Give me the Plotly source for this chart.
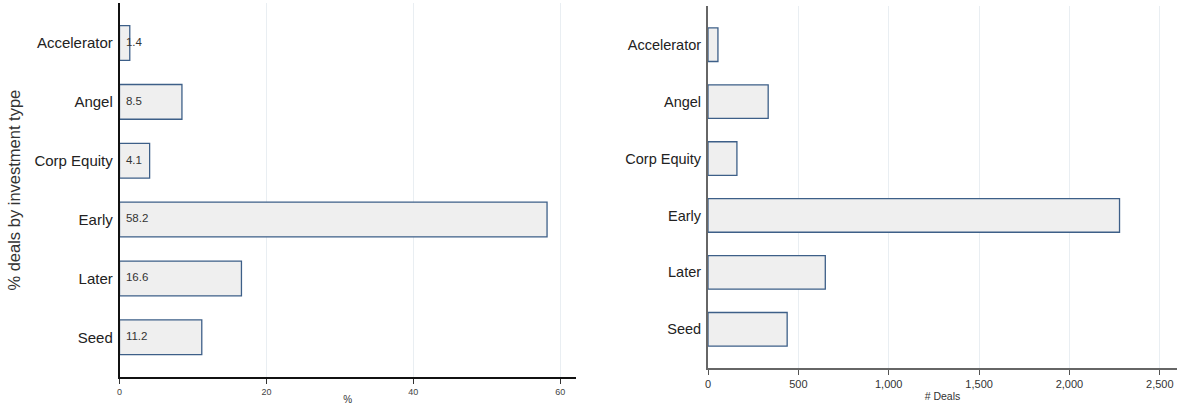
import plotly.graph_objects as go

categories = ["Accelerator", "Angel", "Corp Equity", "Early", "Later", "Seed"]
pct_values = [1.4, 8.5, 4.1, 58.2, 16.6, 11.2]
deal_counts = [55, 333, 160, 2277, 649, 438]
pct_ticks = [0, 20, 40, 60]
deal_ticks = [0, 500, 1000, 1500, 2000, 2500]
deal_tick_labels = ["0", "500", "1,000", "1,500", "2,000", "2,500"]

FILL = "#efefef"
EDGE = "#3d5f88"
FONT = "Liberation Sans, Arial, sans-serif"

fig = go.Figure()

fig.add_trace(go.Bar(
    x=pct_values, y=categories, orientation="h",
    marker=dict(color=FILL, line=dict(color=EDGE, width=1.3)),
    width=0.59, xaxis="x", yaxis="y", hoverinfo="x+y", showlegend=False,
))
fig.add_trace(go.Scatter(
    x=[0] * len(categories), y=categories, mode="text",
    text=["\u00a0\u00a0" + f"{v:.1f}" for v in pct_values], textposition="middle right",
    textfont=dict(family=FONT, size=11.5, color="#333333"),
    xaxis="x", yaxis="y", hoverinfo="skip", showlegend=False,
))
fig.add_trace(go.Bar(
    x=deal_counts, y=categories, orientation="h",
    marker=dict(color=FILL, line=dict(color=EDGE, width=1.3)),
    width=0.59, xaxis="x2", yaxis="y2", hoverinfo="x+y", showlegend=False,
))

fig.update_layout(
    width=1177, height=405,
    margin=dict(l=0, r=0, t=0, b=0),
    paper_bgcolor="white", plot_bgcolor="white",
    font=dict(family=FONT, color="#222222"),
    xaxis=dict(
        domain=[119.5 / 1177, 575.7 / 1177], anchor="y",
        range=[0, 62.1], tickvals=pct_ticks, ticktext=[str(t) for t in pct_ticks],
        showgrid=True, gridcolor="#e9eef2", gridwidth=1, zeroline=False,
        showline=True, linecolor="#111111", linewidth=1.5,
        ticks="outside", ticklen=5, tickcolor="#333333", tickwidth=1,
        tickfont=dict(size=9, color="#444444"),
        title=dict(text="%", font=dict(size=10, color="#333333"), standoff=6),
        automargin=False,
    ),
    yaxis=dict(
        domain=[(405 - 377.3) / 405, (405 - 3) / 405], anchor="x",
        type="category", categoryorder="array", categoryarray=categories,
        range=[5.68, -0.68],
        showgrid=False, zeroline=False,
        showline=True, linecolor="#111111", linewidth=1.5,
        ticks="", tickfont=dict(size=15, color="#222222"), ticklabelstandoff=2,
        title=dict(text="% deals by investment type", font=dict(size=16.5, color="#333333"), standoff=10),
        automargin=False,
    ),
    xaxis2=dict(
        domain=[708 / 1177, 1.0], anchor="y2",
        range=[0, 2595], tickvals=deal_ticks, ticktext=deal_tick_labels,
        showgrid=True, gridcolor="#e9eef2", gridwidth=1, zeroline=False,
        showline=True, linecolor="#666666", linewidth=2,
        ticks="outside", ticklen=5, tickcolor="#555555", tickwidth=1,
        tickfont=dict(size=11, color="#333333"),
        title=dict(text="# Deals", font=dict(size=10.5, color="#333333"), standoff=3),
        automargin=False,
    ),
    yaxis2=dict(
        domain=[(405 - 368) / 405, (405 - 6) / 405], anchor="x2",
        type="category", categoryorder="array", categoryarray=categories,
        range=[5.68, -0.68],
        showgrid=False, zeroline=False,
        showline=True, linecolor="#666666", linewidth=2,
        ticks="", tickfont=dict(size=14.5, color="#222222"), ticklabelstandoff=2,
        automargin=False,
    ),
)

fig.write_html("out.html", config={"displayModeBar": False},
               post_script="document.body.style.margin='0';")
